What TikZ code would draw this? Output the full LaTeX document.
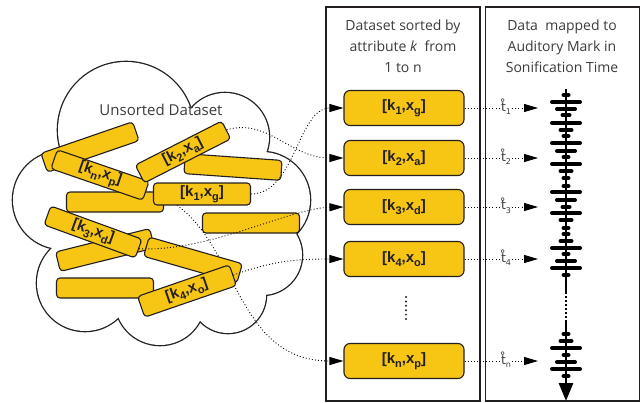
\documentclass[tikz,border=0pt]{standalone}
\usepackage{fontspec}
\setmainfont{Open Sans}
\newfontfamily\barfont{Liberation Sans}
\newfontfamily\tfont{DejaVu Sans}
\usetikzlibrary{arrows.meta}
\pgfdeclarelayer{cloudl}
\pgfdeclarelayer{mid}
\pgfsetlayers{cloudl,mid,main}
\definecolor{barY}{RGB}{247,197,20}
\definecolor{edge}{RGB}{35,31,32}
\definecolor{txtgray}{RGB}{60,60,60}
\newcommand\sbs[1]{\raisebox{-0.28em}{\fontsize{11}{11}\selectfont #1}}
\newcommand\tsb[1]{\raisebox{-0.3em}{\fontsize{8}{8}\selectfont #1}}
\tikzset{
  bar/.style={draw=edge, line width=1.1pt, fill=barY, rounded corners=3.5pt,
    minimum width=97pt, minimum height=20pt, inner sep=0pt,
    font=\barfont\bfseries\fontsize{15}{15}\selectfont, text=edge},
  sortbox/.style={bar, minimum width=120pt, minimum height=35pt, rounded corners=6pt},
  panel/.style={draw=edge, line width=1.2pt, minimum width=154pt, minimum height=394pt, inner sep=0pt},
  title/.style={align=center, text=txtgray, font=\fontsize{14}{21}\selectfont},
  link/.style={line width=0.9pt, dash pattern=on 0.9pt off 2.2pt},
  conn/.style={link, -{Triangle[length=14pt,width=8pt]}},
  tlab/.style={text=txtgray, inner sep=1pt, font=\tfont\fontsize{12.5}{12.5}\selectfont},
  tick/.style={line width=4pt, line cap=round},
  axis/.style={line width=2.8pt},
}
\begin{document}
\begin{tikzpicture}[x=1pt, y=-1pt]
\useasboundingbox (0,0) rectangle (643,402);
% cloud
\begin{pgfonlayer}{cloudl}
\fill[white] (0,0) rectangle (643,402);
\foreach \cx/\cy/\r in {126/130/68, 225/137/44, 262/200/48, 262/255/40, 228/295/38,
                        160/300/45, 85/283/48, 62/200/49, 165/205/95}
  \draw[edge, line width=2.6pt] (\cx,\cy) circle[radius=\r];
\foreach \cx/\cy/\r in {126/130/68, 225/137/44, 262/200/48, 262/255/40, 228/295/38,
                        160/300/45, 85/283/48, 62/200/49, 165/205/95}
  \fill[white] (\cx,\cy) circle[radius=\r];
\end{pgfonlayer}
\node[title, font=\fontsize{15}{15}\selectfont] (ut) at (161,110) {Unsorted Dataset};
% unsorted bars
\node[bar, rotate=19] (b1) at (90,147) {};
\node[bar] (b5) at (115,202) {};
\node[bar, rotate=-19] (kn) at (100,175) {[k\sbs{n},x\sbs{p}]};
\node[bar, rotate=-4] (b4) at (233,167) {};
\node[bar, rotate=27] (k2) at (183,152) {[k\sbs{2},x\sbs{a}]};
\node[bar, minimum height=22pt] (k1) at (202,194) {[k\sbs{1},x\sbs{g}]};
\node[bar] (b7) at (251,223) {};
\node[bar, rotate=14] (b9) at (105,250) {};
\node[bar, rotate=-20] (k3) at (93,232) {[k\sbs{3},x\sbs{d}]};
\node[bar, rotate=-16] (b10) at (193,260) {};
\node[bar] (b11) at (105,288) {};
\node[bar, rotate=19, minimum height=22pt] (k4) at (187,291) {[k\sbs{4},x\sbs{o}]};
% panels
\node[panel] (p1) at (403,204) {};
\node[panel] (p2) at (562.5,204) {};
\node[title] (h1) at (403,46) {Dataset sorted by\\attribute \textit{k}~ from\\1 to n};
\node[title] (h2) at (562,46) {Data~ mapped to\\Auditory Mark in\\Sonification Time};
% sorted boxes
\node[sortbox] (s1) at (404,108) {[k\sbs{1},x\sbs{g}]};
\node[sortbox] (s2) at (404,158) {[k\sbs{2},x\sbs{a}]};
\node[sortbox] (s3) at (404,207) {[k\sbs{3},x\sbs{d}]};
\node[sortbox] (s4) at (404,259) {[k\sbs{4},x\sbs{o}]};
\node[sortbox] (sn) at (404,361) {[k\sbs{n},x\sbs{p}]};
\draw[edge, line width=2.2pt, line cap=round, dash pattern=on 0pt off 4.4pt] (406,297) -- (406,320);
% connectors cloud -> sorted
\begin{pgfonlayer}{mid}
\draw[conn] (kn.east) .. controls (240,215) and (225,361) .. (sn.west);
\end{pgfonlayer}
\draw[conn] (k1.east) .. controls (295,194) and (298,108) .. (s1.west);
\draw[conn] (k2.east) .. controls (268,118) and (290,158) .. (s2.west);
\draw[conn] (k3.east) .. controls (210,252) and (290,208) .. (s3.west);
\draw[conn] (k4.east) .. controls (275,260) and (300,259) .. (s4.west);
% time labels
\foreach \n/\y in {1/108, 2/158, 3/207, 4/259, n/361}{
  \node[tlab] (t\n) at (506,\y-1) {t̊\tsb{\n}};
  \coordinate (e\n) at (538,\y);
  \draw[link] (s\n.east) -- (t\n.west |- e\n);
  \draw[conn] (t\n.east |- e\n) -- (e\n);
}
% sonification axis
\coordinate (a0) at (566,89);
\coordinate (a1) at (566,292);
\coordinate (a2) at (566,322);
\coordinate (a3) at (566,401);
\draw[axis] (a0) -- (a1);
\draw[axis, dash pattern=on 1.6pt off 2.4pt] (a1) -- (a2);
\draw[axis, -{Triangle[length=18pt,width=14pt]}] (a2) -- (a3);
\foreach \y/\h in {95/2.5, 102/14, 109/9, 115/3.5, 123/14, 130/5.5, 136/2.5, 143/14,
  151/9, 157/2.5, 164/14, 171/5.5, 178/2.5, 186/2.5, 192/14, 200/9, 207/3.5, 213/14,
  220/5.5, 228/2.5, 234/2.5, 241/5.5, 248/14, 254/2.5, 261/9, 268/14, 275/2.5,
  334/2.5, 341/5.5, 348/14, 355/2.5, 362/9, 369/14, 376/2.5}
  \draw[tick] (566-\h,\y) -- (566+\h,\y);
\end{tikzpicture}
\end{document}
